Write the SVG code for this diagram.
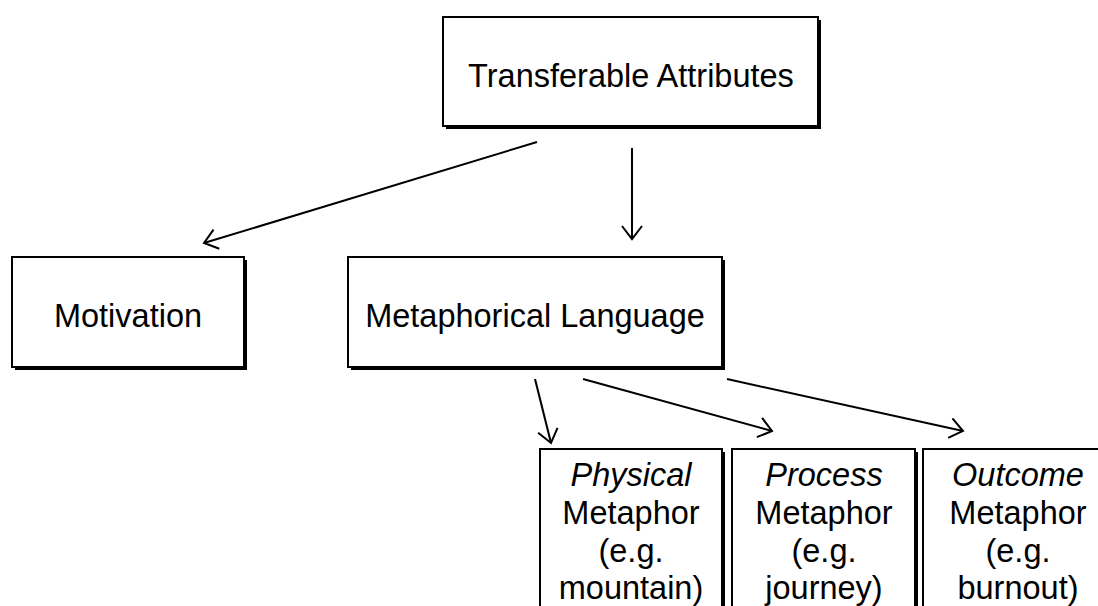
<svg xmlns="http://www.w3.org/2000/svg" width="1098" height="606" viewBox="0 0 1098 606">
<defs>
<style>
.box{fill:#fff;stroke:#000;stroke-width:2}
.sh{fill:#000}
.t{font-family:"Liberation Sans",Arial,sans-serif;font-size:32.5px;fill:#000;text-anchor:middle}
.i{font-style:italic}
.c{fill:none;stroke:#000;stroke-width:2}
</style>
<marker id="ah" markerWidth="16" markerHeight="22" refX="14" refY="11" orient="auto" markerUnits="userSpaceOnUse">
<path d="M1,1 L14,11 L1,21" fill="none" stroke="#000" stroke-width="2"/>
</marker>
</defs>
<rect width="1098" height="606" fill="#fff"/>
<g id="transferable">
<rect class="sh" x="446" y="20" width="375" height="109"/>
<rect class="box" x="443" y="17" width="375" height="109"/>
<text class="t" x="631" y="87">Transferable Attributes</text>
</g>
<g id="motivation">
<rect class="sh" x="15" y="260" width="232" height="110"/>
<rect class="box" x="12" y="257" width="232" height="110"/>
<text class="t" x="128" y="327">Motivation</text>
</g>
<g id="metaphorical">
<rect class="sh" x="351" y="260" width="374" height="110"/>
<rect class="box" x="348" y="257" width="374" height="110"/>
<text class="t" x="535" y="327">Metaphorical Language</text>
</g>
<g id="physical">
<rect class="sh" x="543" y="452" width="182" height="170"/>
<rect class="box" x="540" y="449" width="182" height="170"/>
<text class="t" x="631"><tspan class="i" x="631" y="486">Physical</tspan><tspan x="631" y="524">Metaphor</tspan><tspan x="631" y="562">(e.g.</tspan><tspan x="631" y="599">mountain)</tspan></text>
</g>
<g id="process">
<rect class="sh" x="735" y="452" width="183" height="170"/>
<rect class="box" x="732" y="449" width="183" height="170"/>
<text class="t" x="824"><tspan class="i" x="824" y="486">Process</tspan><tspan x="824" y="524">Metaphor</tspan><tspan x="824" y="562">(e.g.</tspan><tspan x="824" y="599">journey)</tspan></text>
</g>
<g id="outcome">
<rect class="sh" x="926" y="452" width="190" height="170"/>
<rect class="box" x="923" y="449" width="190" height="170"/>
<text class="t" x="1018"><tspan class="i" x="1018" y="486">Outcome</tspan><tspan x="1018" y="524">Metaphor</tspan><tspan x="1018" y="562">(e.g.</tspan><tspan x="1018" y="599">burnout)</tspan></text>
</g>
<g id="connectors">
<line class="c" x1="537" y1="142" x2="204" y2="243" marker-end="url(#ah)"/>
<line class="c" x1="632" y1="148" x2="632" y2="239" marker-end="url(#ah)"/>
<line class="c" x1="535" y1="379" x2="551" y2="443" marker-end="url(#ah)"/>
<line class="c" x1="583" y1="379" x2="772" y2="431" marker-end="url(#ah)"/>
<line class="c" x1="727" y1="379" x2="963" y2="431" marker-end="url(#ah)"/>
</g>
</svg>
